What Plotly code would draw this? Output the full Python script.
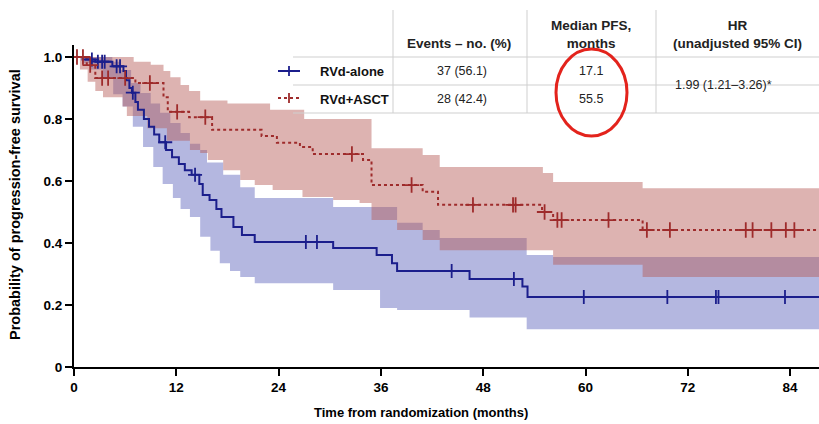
import plotly.graph_objects as go

# ---------------- data ----------------
T_END = 88.0

blue_t = [0, 1.0, 2.5, 4.5, 5.8, 6.1, 6.5, 6.8, 7.2, 7.5, 8.2, 8.8, 9.4, 10.0, 10.8, 11.5, 12.3, 13.0,
          13.8, 14.7, 15.1, 15.9, 16.7, 17.3, 18.7, 19.7, 21.2, 30.4, 35.5, 37.3, 37.9, 46.4, 52.6, 53.2]
blue_s = [1.0, 0.992, 0.985, 0.97, 0.955, 0.925, 0.9, 0.885, 0.855, 0.83, 0.80, 0.775, 0.75, 0.725, 0.70,
          0.677, 0.655, 0.635, 0.62, 0.59, 0.555, 0.539, 0.51, 0.484, 0.452, 0.426, 0.403, 0.384, 0.361,
          0.335, 0.31, 0.284, 0.26, 0.226]
blue_cens = [2.1, 2.8, 3.3, 3.6, 5.0, 5.4, 6.9, 10.7, 14.2, 27.2, 28.5, 44.3, 51.6, 59.8, 69.6, 75.3,
             75.6, 83.4]

blue_up_t = [0, 4.5, 5.5, 6.7, 7.8, 9.0, 10.1, 11.3, 12.5, 13.6, 14.8, 15.6, 17.5, 19.5, 21.2, 30.4,
             37.9, 40.9, 42.9, 53.1, 56.2]
blue_up_s = [1.0, 0.985, 0.958, 0.916, 0.884, 0.85, 0.82, 0.787, 0.755, 0.72, 0.70, 0.66, 0.62, 0.58,
             0.545, 0.516, 0.465, 0.442, 0.416, 0.361, 0.355]
blue_lo_t = [0, 1.0, 2.0, 3.4, 4.6, 5.7, 6.9, 8.1, 9.3, 10.4, 11.6, 12.5, 13.6, 14.8, 16.0, 17.1, 18.3,
             19.5, 21.2, 30.4, 35.9, 37.9, 46.4, 53.1]
blue_lo_s = [1.0, 0.98, 0.96, 0.93, 0.88, 0.84, 0.775, 0.71, 0.645, 0.59, 0.545, 0.51, 0.484, 0.42,
             0.375, 0.335, 0.31, 0.29, 0.27, 0.248, 0.19, 0.184, 0.16, 0.122]

red_t = [0, 1.5, 2.5, 7.2, 10.5, 11.0, 13.5, 16.2, 22.0, 23.8, 26.5, 28.0, 33.9, 34.9, 40.9, 42.7,
         54.9, 56.2, 66.7]
red_s = [1.0, 0.974, 0.932, 0.916, 0.87, 0.823, 0.806, 0.765, 0.745, 0.723, 0.71, 0.687, 0.668, 0.587,
         0.565, 0.523, 0.50, 0.474, 0.442]
red_cens = [0.35, 1.05, 1.9, 3.3, 4.0, 6.0, 8.9, 12.1, 15.4, 32.6, 39.6, 46.8, 51.5, 51.8, 55.2, 56.7,
            57.2, 62.7, 67.2, 69.9, 78.8, 79.6, 81.8, 83.5, 84.5]

red_up_t = [0, 7.0, 9.0, 10.5, 11.3, 12.5, 13.5, 14.8, 18.0, 23.0, 27.0, 34.9, 40.9, 42.9, 55.0, 56.2,
            66.7]
red_up_s = [1.0, 0.985, 0.975, 0.955, 0.935, 0.91, 0.89, 0.86, 0.85, 0.83, 0.80, 0.706, 0.684, 0.645,
            0.626, 0.597, 0.577]
red_lo_t = [0, 0.7, 1.6, 2.5, 3.4, 5.7, 6.2, 8.6, 10.9, 13.6, 14.8, 15.7, 17.5, 19.5, 21.2, 23.3, 26.8,
            30.4, 33.5, 34.9, 37.9, 40.9, 42.9, 56.2, 66.7]
red_lo_s = [1.0, 0.96, 0.92, 0.89, 0.87, 0.84, 0.81, 0.77, 0.73, 0.70, 0.69, 0.668, 0.635, 0.603, 0.587,
            0.571, 0.548, 0.539, 0.529, 0.474, 0.442, 0.41, 0.377, 0.33, 0.29]

x_ticks = [0, 12, 24, 36, 48, 60, 72, 84]
y_ticks = [0, 0.2, 0.4, 0.6, 0.8, 1.0]
y_tick_labels = ["0", "0.2", "0.4", "0.6", "0.8", "1.0"]

groups = ["RVd-alone", "RVd+ASCT"]
col_headers = ["Events – no. (%)", "Median PFS,<br>months", "HR<br>(unadjusted 95% CI)"]
events = ["37 (56.1)", "28 (42.4)"]
median_pfs = ["17.1", "55.5"]
hr_text = "1.99 (1.21–3.26)*"

BLUE = "#1b1e8c"
RED = "#9e2b2b"
BLUE_FILL = "rgba(98,104,190,0.48)"
RED_FILL = "rgba(180,90,86,0.46)"


# ---------------- helpers ----------------
def step_path(ts, ss, tend):
    xs, ys = [], []
    for i, (t, s) in enumerate(zip(ts, ss)):
        if i > 0:
            xs.append(t)
            ys.append(ss[i - 1])
        xs.append(t)
        ys.append(s)
    xs.append(tend)
    ys.append(ss[-1])
    return xs, ys


def value_at(ts, ss, t):
    v = ss[0]
    for tt, s in zip(ts, ss):
        if tt <= t:
            v = s
    return v


def band(ut, us, lt, ls):
    ux, uy = step_path(ut, us, T_END)
    lx, ly = step_path(lt, ls, T_END)
    return ux + lx[::-1], uy + ly[::-1]


fig = go.Figure()

bx, by = band(blue_up_t, blue_up_s, blue_lo_t, blue_lo_s)
fig.add_trace(go.Scatter(x=bx, y=by, fill="toself", fillcolor=BLUE_FILL, line=dict(width=0),
                         mode="lines", hoverinfo="skip", showlegend=False))
rx, ry = band(red_up_t, red_up_s, red_lo_t, red_lo_s)
fig.add_trace(go.Scatter(x=rx, y=ry, fill="toself", fillcolor=RED_FILL, line=dict(width=0),
                         mode="lines", hoverinfo="skip", showlegend=False))

x1, y1 = step_path(blue_t, blue_s, T_END)
fig.add_trace(go.Scatter(x=x1, y=y1, mode="lines", line=dict(color=BLUE, width=2), showlegend=False))
x2, y2 = step_path(red_t, red_s, T_END)
fig.add_trace(go.Scatter(x=x2, y=y2, mode="lines", line=dict(color=RED, width=2, dash="3px,3px"),
                         showlegend=False))

fig.add_trace(go.Scatter(x=blue_cens, y=[value_at(blue_t, blue_s, t) for t in blue_cens], mode="markers",
                         marker=dict(symbol="cross-thin", size=10, line=dict(color=BLUE, width=1.8)),
                         showlegend=False))
fig.add_trace(go.Scatter(x=red_cens, y=[value_at(red_t, red_s, t) for t in red_cens], mode="markers",
                         marker=dict(symbol="cross-thin", size=11, line=dict(color=RED, width=1.8)),
                         showlegend=False))

# ---------------- layout ----------------
L, R, T, B = 74, 0, 45, 57
W, H = 819, 424
PW, PH = W - L - R, H - T - B


def px(x):
    return (x - L) / PW


def py(y):
    return (H - B - y) / PH


FONT = "Liberation Sans, Arial, sans-serif"

fig.update_layout(
    width=W, height=H, margin=dict(l=L, r=R, t=T, b=B),
    plot_bgcolor="white", paper_bgcolor="white",
    xaxis=dict(range=[0, PW / 8.525], tickvals=x_ticks, ticktext=[str(v) for v in x_ticks],
               showgrid=False, zeroline=False, showline=True, linecolor="black", linewidth=2,
               ticks="outside", ticklen=7, tickwidth=1.5, tickcolor="black",
               tickfont=dict(family=FONT, size=13.5, color="black", weight="bold")),
    yaxis=dict(range=[0, PH / 310.0], tickvals=y_ticks, ticktext=y_tick_labels,
               showgrid=False, zeroline=False, showline=True, linecolor="black", linewidth=2,
               ticks="outside", ticklen=7, tickwidth=1.5, tickcolor="black",
               tickfont=dict(family=FONT, size=13.5, color="black", weight="bold")),
)


def note(text, x, y, size=12, bold=False, xanchor="center", angle=0, color="#222"):
    return dict(text=text, x=px(x), y=py(y), xref="paper", yref="paper", showarrow=False,
                xanchor=xanchor, yanchor="middle", textangle=angle,
                font=dict(family=FONT, size=size, color=color, weight="bold" if bold else "normal"))


ann = []
ann.append(note("Time from randomization (months)", 421, 412, size=13, bold=True, color="black"))
ann.append(note("Probability of progression-free survival", 15, 205, size=14.5, bold=True, angle=-90,
                color="black"))

# table headers
hdr_pos = [(459, 43), (591, 34), (737, 34)]
for txt, (hx, hy) in zip(col_headers, hdr_pos):
    ann.append(note(txt, hx, hy, size=13.5, bold=True))
row_y = [71, 99]
for i in range(2):
    ann.append(note(events[i], 462, row_y[i], size=12.5))
    ann.append(note(median_pfs[i], 591, row_y[i], size=12.5))
    ann.append(note(groups[i], 318, row_y[i], size=13, bold=True, xanchor="left", color="#111"))
ann.append(note(hr_text, 723, 85, size=12.5))

shapes = []
# table lines
for yy in [57, 85, 113]:
    shapes.append(dict(type="line", xref="paper", yref="paper", x0=px(293), x1=px(819), y0=py(yy), y1=py(yy),
                       line=dict(color="#cfcfcf", width=1)))
for xx in [393, 527, 656]:
    shapes.append(dict(type="line", xref="paper", yref="paper", x0=px(xx), x1=px(xx), y0=py(10), y1=py(113),
                       line=dict(color="#cfcfcf", width=1)))
# legend symbols
shapes.append(dict(type="line", xref="paper", yref="paper", x0=px(278), x1=px(300), y0=py(71), y1=py(71),
                   line=dict(color=BLUE, width=2)))
shapes.append(dict(type="line", xref="paper", yref="paper", x0=px(289), x1=px(289), y0=py(66), y1=py(76),
                   line=dict(color=BLUE, width=1.8)))
shapes.append(dict(type="line", xref="paper", yref="paper", x0=px(278), x1=px(300), y0=py(98), y1=py(98),
                   line=dict(color=RED, width=2, dash="3px,3px")))
shapes.append(dict(type="line", xref="paper", yref="paper", x0=px(289), x1=px(289), y0=py(93), y1=py(103),
                   line=dict(color=RED, width=1.8)))
# highlight ellipse
shapes.append(dict(type="circle", xref="paper", yref="paper", x0=px(556), x1=px(627), y0=py(136), y1=py(49),
                   line=dict(color="#e3231c", width=3)))

fig.update_layout(annotations=ann, shapes=shapes)
fig.write_html("out.html")
